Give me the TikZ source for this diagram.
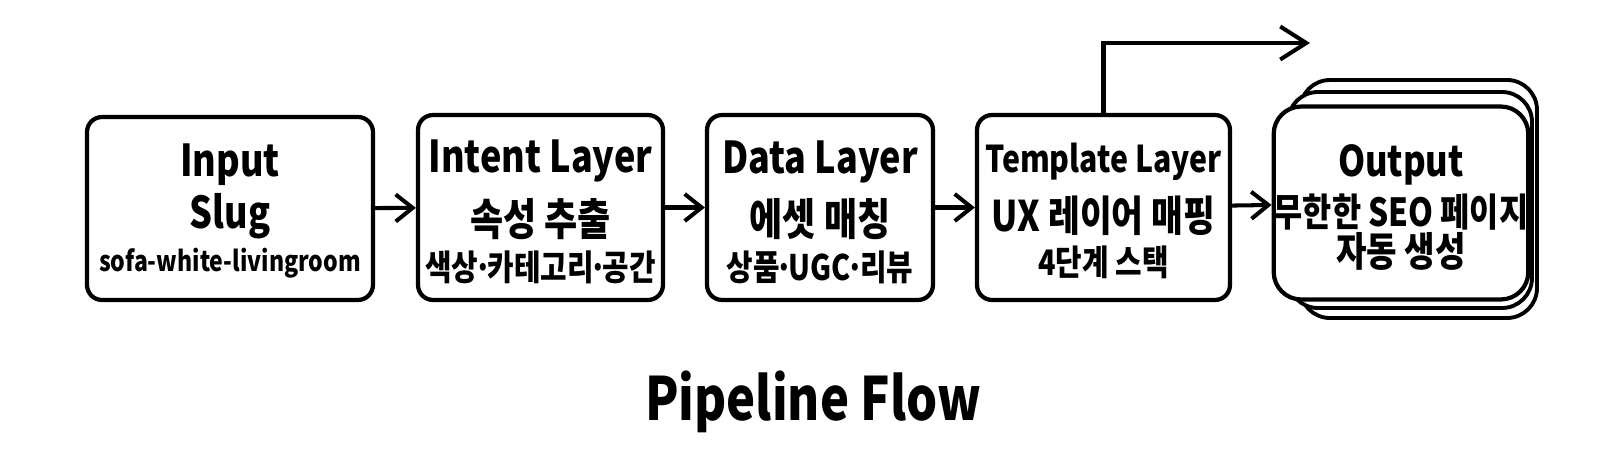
\documentclass[tikz,border=0pt]{standalone}
\usepackage{fontspec}
\setmainfont{Noto Sans CJK KR}[FakeStretch=0.82]
\usetikzlibrary{arrows.meta}
\newcommand\fs[1]{\fontsize{#1}{24}\selectfont}
\newcommand\midd{\kern-.12em·\kern-.12em}
\newcommand\tp[1]{\rule{0pt}{#1}}
\begin{document}
\begin{tikzpicture}[x=0.02cm, y=-0.02cm,
    stage/.style ={draw, line width=2.4pt, rounded corners=0.3cm, fill=white,
      align=center, inner sep=0pt, minimum height=3.7cm, font=\bfseries},
    page/.style ={draw, line width=2.2pt, rounded corners=0.6cm, fill=white},
    flow/.style ={line width=2.3pt, -{Straight Barb[length=0.34cm, width=0.54cm]}},
    upflow/.style ={line width=2.3pt, -{Straight Barb[length=0.52cm, width=0.66cm]}}]
   \useasboundingbox (0,0) rectangle (1600,467);

   \node[stage, minimum width=5.72cm, minimum height=3.66cm] (I) at (230,208.5)
     {\fs{25}\tp{21.5pt}Input\\[3.5pt]\fs{25}Slug\\[4pt]\fs{16}sofa-white-livingroom};
   \node[stage, minimum width=4.9cm] (N) at (540.5,207.5)
     {\fs{25}\tp{24pt}Intent Layer\\[7.8pt]\fs{25}속성 추출\\[5.7pt]\fs{20}색상\midd 카테고리\midd 공간};
   \node[stage, minimum width=4.52cm] (D) at (820,207.5)
     {\fs{25}\tp{24pt}Data Layer\\[7.8pt]\fs{25}에셋 매칭\\[5.2pt]\fs{20}상품\midd UGC\midd 리뷰};
   \node[stage, minimum width=5.06cm] (T) at (1103.5,207.5)
     {\fs{21}\tp{20.5pt}Template Layer\\[7.8pt]\fs{24}UX 레이어 매핑\\[5pt]\fs{20}4단계 스택};

   \draw[page] (1300,80) rectangle (1537,318);
   \draw[page] (1288,92) rectangle (1532,308);
   \node[stage, minimum width=5.04cm, minimum height=3.86cm, rounded corners=0.55cm] (O) at (1401,203)
     {\fs{24}\tp{23pt}Output\\[4pt]\fs{22}무한한 SEO 페이지\\[0pt]\fs{23}자동 생성};

   \coordinate (U) at (1310,43);

   \draw[flow] (I) to (N);
   \draw[flow] (N) to (D);
   \draw[flow] (D) to (T);
   \draw[flow] (T) to (O);
   \draw[upflow] (T.north) |- (U);

   \node[font=\bfseries\fontsize{34}{40}\selectfont, anchor=base] (P) at (813,420) {Pipeline Flow};
 \end{tikzpicture}
\end{document}
